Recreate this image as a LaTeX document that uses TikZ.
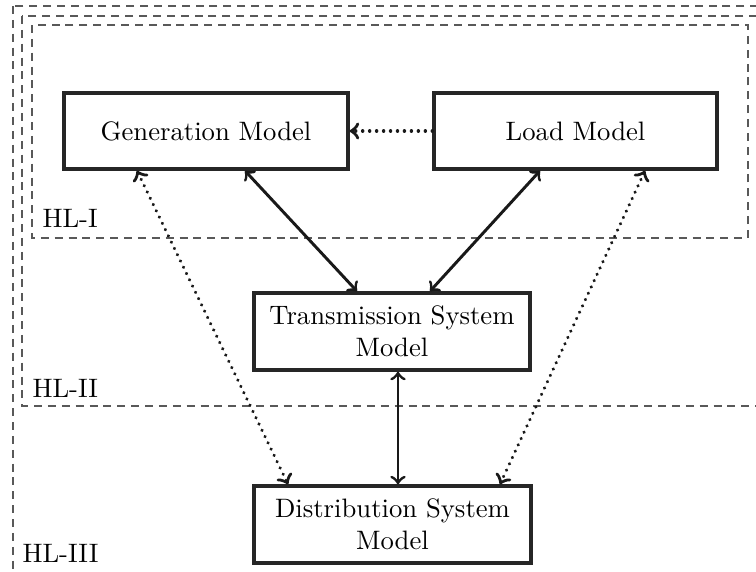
\documentclass[tikz,border=0pt]{standalone}
\usetikzlibrary{calc}
\begin{document}
\begin{tikzpicture}[x=0.375pt,y=-0.375pt,
  modelbox/.style={draw=black!85,line width=1.3pt,align=center,inner sep=2pt},
  hlbox/.style={draw=black!65,line width=0.45pt,dash pattern=on 3pt off 2.2pt},
  link/.style={draw=black!90,line width=1.1pt,>=to},
  dotlink/.style={draw=black!90,line width=1.3pt,>=to,line cap=round,dash pattern=on 0.01pt off 2.6pt},
  hllabel/.style={anchor=base west,inner sep=0pt}]
\useasboundingbox (0,0) rectangle (756,571);
\draw[hlbox] (13,6) rectangle (790,600);
\draw[hlbox] (22,16) rectangle (790,406);
\draw[hlbox] (32,25) rectangle (748,238);
\node[hllabel] (hl1) at (42,227) {HL-I};
\node[hllabel] (hl2) at (32,397) {HL-II};
\node[hllabel] (hl3) at (22,562) {HL-III};
\node[modelbox,minimum width=106.5pt,minimum height=28.5pt] (gen) at (206,131) {Generation Model};
\node[modelbox,minimum width=106.1pt,minimum height=28.5pt] (load) at (575.5,131) {Load Model};
\node[modelbox,minimum width=103.5pt,minimum height=28.9pt] (trans) at (392,331.5) {Transmission System\\Model};
\node[modelbox,minimum width=103.9pt,minimum height=28.9pt] (dist) at (392.5,524.5) {Distribution System\\Model};
\draw[dotlink,->] (load.west) -- (gen.east);
\draw[link,<->] ($(gen.south)+(39,0)$) -- ($(trans.north)+(-35,0)$);
\draw[link,<->] ($(load.south)+(-35.5,0)$) -- ($(trans.north)+(38,0)$);
\draw[link,<->] ($(trans.south)+(6,0)$) -- ($(dist.north)+(5.5,0)$);
\draw[dotlink,<->] ($(gen.south)+(-69,0)$) -- ($(dist.north)+(-104.5,0)$);
\draw[dotlink,<->] ($(load.south)+(69.5,0)$) -- ($(dist.north)+(107.5,0)$);
\end{tikzpicture}
\end{document}
